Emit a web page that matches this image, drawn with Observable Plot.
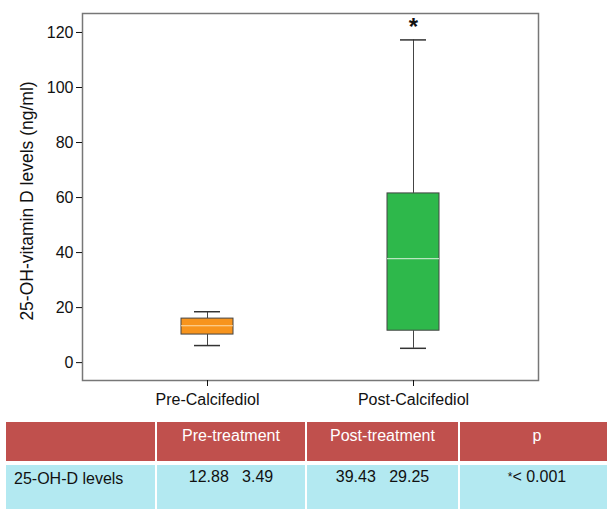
<!DOCTYPE html>
<html><head><meta charset="utf-8">
<script src="https://cdn.jsdelivr.net/npm/d3@7"></script>
<script src="https://cdn.jsdelivr.net/npm/@observablehq/plot@0.6"></script>
<style>
html,body{margin:0;padding:0;background:#fff;overflow:hidden;}
body{font-family:"Liberation Sans",Arial,sans-serif;width:607px;}
#chart svg{display:block;}
#tbl{margin-top:12px;margin-left:6px;border-collapse:separate;border-spacing:0;table-layout:fixed;width:610px;}
#tbl td{padding:0;border-right:2px solid #fff;font-size:16px;line-height:18px;vertical-align:top;white-space:pre;}
#tbl tr.h td{background:#c0504d;color:#fff;height:43px;text-align:center;padding-top:5px;box-sizing:border-box;border-bottom:4px solid #fff;}
#tbl tr.d td{background:#b3e9f1;color:#111;height:50px;text-align:center;padding-top:3px;box-sizing:border-box;}
#tbl tr.d td:first-child{text-align:left;padding-left:8px;padding-top:5px;}
</style></head><body>
<div id="chart"></div>
<table id="tbl"></table>
<script>
const groups = ["Pre-Calcifediol", "Post-Calcifediol"];
const whiskerLow = [6.2, 5.2];
const q1 = [10.2, 11.6];
const median = [13.4, 37.8];
const q3 = [16.0, 61.5];
const whiskerHigh = [18.5, 117.3];
const fills = ["#f7941d", "#2eb84b"];
const medianColors = ["#fcdcaa", "#b9e6c0"];
const marks = ["", "*"];
const yTicks = [0, 20, 40, 60, 80, 100, 120];
const yLabel = "25-OH-vitamin D levels (ng/ml)";
const tableHeader = ["", "Pre-treatment", "Post-treatment", "p"];
const tableRow = ["25-OH-D levels", "12.88   3.49", "39.43   29.25", "*< 0.001"];

const data = groups.map((g, i) => ({
  group: g, low: whiskerLow[i], q1: q1[i], median: median[i], q3: q3[i], high: whiskerHigh[i],
  fill: fills[i], mcol: medianColors[i], mark: marks[i]
}));

const chart = Plot.plot({
  width: 607, height: 410,
  marginLeft: 82, marginRight: 69, marginTop: 13, marginBottom: 30,
  style: {fontFamily: "'Liberation Sans', Arial, sans-serif", fontSize: "16px", color: "#111", background: "#fff"},
  x: {domain: groups, paddingInner: 0.748, paddingOuter: 0.48, label: null},
  y: {domain: [-6.5, 126.9], label: null},
  marks: [
    Plot.ruleX(data, {x: "group", y1: "low", y2: "q1", stroke: "#444", strokeWidth: 1}),
    Plot.ruleX(data, {x: "group", y1: "q3", y2: "high", stroke: "#444", strokeWidth: 1}),
    Plot.tickY(data, {x: "group", y: "low", stroke: "#333", strokeWidth: 1.5, insetLeft: 13, insetRight: 13}),
    Plot.tickY(data, {x: "group", y: "high", stroke: "#333", strokeWidth: 1.5, insetLeft: 13, insetRight: 13}),
    Plot.barY(data, {x: "group", y1: "q1", y2: "q3", fill: d => d.fill, stroke: "#444", strokeWidth: 1}),
    Plot.tickY(data, {x: "group", y: "median", stroke: d => d.mcol, strokeWidth: 1.2}),
    Plot.text(data, {x: "group", y: "high", text: "mark", dy: -13, fontSize: 24, fontWeight: "bold", fill: "#111"}),
    Plot.frame({stroke: "#777", strokeWidth: 1.5}),
    Plot.axisY({ticks: yTicks, tickSize: 6, tickPadding: 3, fontSize: 16,
      label: yLabel, labelAnchor: "center", labelArrow: "none", labelOffset: 62}),
    Plot.axisX({tickSize: 6, tickPadding: 7, fontSize: 16, label: null})
  ]
});
chart.querySelectorAll("text").forEach(t => {
  if (t.textContent === yLabel) { t.setAttribute("font-size", "17.5"); t.setAttribute("dx", "-4"); }
});
document.getElementById("chart").appendChild(chart);

const tbl = document.getElementById("tbl");
const cg = document.createElement("colgroup");
[151, 150, 153, 156].forEach(w => { const c = document.createElement("col"); c.style.width = w + "px"; cg.appendChild(c); });
tbl.appendChild(cg);
const trh = document.createElement("tr"); trh.className = "h";
tableHeader.forEach(t => { const td = document.createElement("td"); td.textContent = t; trh.appendChild(td); });
tbl.appendChild(trh);
const trd = document.createElement("tr"); trd.className = "d";
tableRow.forEach((t, i) => {
  const td = document.createElement("td");
  if (t.startsWith("*")) {
    const s = document.createElement("span"); s.textContent = "*"; s.style.fontSize = "12px"; s.style.verticalAlign = "1px";
    td.appendChild(s); td.appendChild(document.createTextNode(t.slice(1)));
  } else td.textContent = t;
  trd.appendChild(td);
});
tbl.appendChild(trd);
</script>
</body></html>
